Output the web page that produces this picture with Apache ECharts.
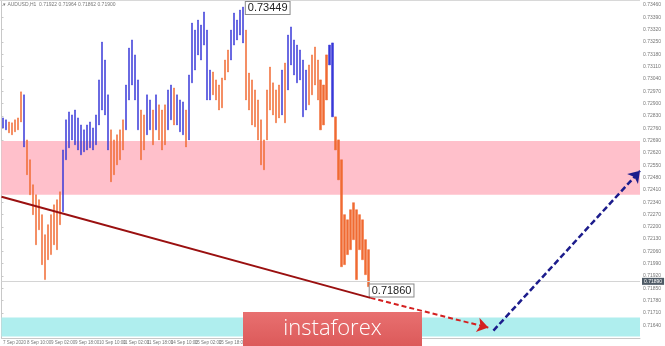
<!DOCTYPE html>
<html><head><meta charset="utf-8">
<script src="https://cdn.jsdelivr.net/npm/echarts@6/dist/echarts.min.js"></script>
<style>html,body{margin:0;padding:0;background:#fff}#c{width:665px;height:346px}</style>
</head><body><div id="c"></div>
<script>
const symbolTitle = 'AUDUSD,H1  0.71922 0.71964 0.71862 0.71900';
const xTickLabels = ['7 Sep 2020','8 Sep 10:00','9 Sep 02:00','9 Sep 18:00','10 Sep 10:00','11 Sep 02:00','11 Sep 18:00','14 Sep 10:00','15 Sep 02:00','15 Sep 18:00','16 Sep 10:00','17 Sep 02:00','17 Sep 18:00','18 Sep 10:00','21 Sep 02:00'];
const barCount = 213;
const highs = [0.72819,0.72808,0.72796,0.72791,0.72808,0.72819,0.72967,0.72950,0.72694,0.72581,
0.72439,0.72382,0.72354,0.72269,0.72155,0.72212,0.72269,0.72325,0.72354,0.72399,
0.72637,0.72808,0.72853,0.72836,0.72864,0.72819,0.72779,0.72751,0.72779,0.72796,
0.72762,0.72836,0.73035,0.73250,0.73148,0.72950,0.72751,0.72694,0.72723,0.72751,
0.72808,0.73006,0.73216,0.73262,0.73177,0.73035,0.72864,0.72836,0.72950,0.72921,
0.72864,0.72950,0.72893,0.72864,0.72893,0.72978,0.73006,0.72989,0.72950,0.72921,
0.72910,0.72864,0.73063,0.73358,0.73318,0.73375,0.73347,0.73421,0.73318,0.73091,
0.73080,0.73035,0.73006,0.73046,0.73148,0.73205,0.73318,0.73415,0.73375,0.73432,
0.73449,0.73318,0.73074,0.73035,0.72978,0.72921,0.72808,0.72694,0.72978,0.73108,
0.73018,0.72978,0.73006,0.73091,0.73131,0.73290,0.73336,0.73262,0.73233,0.73205,
0.73148,0.73091,0.73120,0.73177,0.73222,0.73148,0.73035,0.73006,0.73177,0.73233,
0.73245,0.72825,0.72694,0.72581,0.72269,0.72240,0.72297,0.72337,0.72297,0.72269,
0.72240,0.72127,0.72070];
const lows = [0.72762,0.72751,0.72734,0.72723,0.72740,0.72751,0.72796,0.72654,0.72496,0.72382,
0.72269,0.72098,0.72183,0.71985,0.71900,0.72013,0.72042,0.72098,0.72070,0.72212,
0.72286,0.72581,0.72649,0.72694,0.72666,0.72637,0.72609,0.72626,0.72637,0.72649,
0.72637,0.72666,0.72779,0.72864,0.72836,0.72637,0.72456,0.72496,0.72552,0.72581,
0.72637,0.72751,0.72921,0.73006,0.72921,0.72751,0.72581,0.72637,0.72723,0.72751,
0.72666,0.72751,0.72694,0.72637,0.72666,0.72751,0.72808,0.72779,0.72779,0.72740,
0.72723,0.72654,0.72694,0.73018,0.73091,0.73177,0.73148,0.73233,0.72921,0.72921,
0.72950,0.72921,0.72864,0.72876,0.73035,0.73080,0.73148,0.73233,0.73262,0.73290,
0.73245,0.72921,0.72864,0.72779,0.72768,0.72694,0.72552,0.72524,0.72694,0.72864,
0.72836,0.72791,0.72819,0.72836,0.72791,0.72978,0.73120,0.73063,0.73018,0.73035,
0.72825,0.72864,0.72893,0.72950,0.73006,0.72921,0.72751,0.72779,0.72921,0.73120,
0.72825,0.72637,0.72467,0.71973,0.71985,0.72042,0.72070,0.72127,0.71900,0.72070,
0.72013,0.71928,0.71860];
const bullish = [1,1,0,0,0,0,0,1,0,0, 0,0,0,0,0,0,0,0,0,0,
1,1,1,1,1,1,1,1,1,1, 1,1,1,1,1,1,0,0,0,0,
0,1,1,1,1,1,0,0,1,1, 0,1,0,0,0,1,1,0,1,1,
1,0,1,1,1,1,1,1,1,1, 0,0,0,0,0,0,1,1,1,1,
1,0,0,0,0,0,0,0,0,0, 0,0,0,1,0,1,1,1,1,1,
1,1,0,0,0,0,0,0,0,1, 1,0,0,0,0,0,0,0,0,0,
0,0,0];
const priceTicks = [0.73460,0.73390,0.73320,0.73250,0.73180,0.73110,0.73040,0.72970,0.72900,0.72830,
0.72760,0.72690,0.72620,0.72550,0.72480,0.72410,0.72340,0.72270,0.72200,0.72130,
0.72060,0.71990,0.71920,0.71850,0.71780,0.71710,0.71640];
const peakPoint = [80, 0.73449];
const lowPoint = [122, 0.71860];
const currentPrice = 0.71890;
const pinkZone = [0.72382, 0.72688];
const cyanZone = [0.71576, 0.71684];
const trendLine = [[0, 0.72371], [123.1, 0.71796]];
const trendForecast = [[123.1, 0.71796], [162.4, 0.71627]];
const upForecast = [[164.1, 0.71610], [213, 0.72518]];

const categories = Array.from({length: barCount}, (_, i) => i);
const candles = highs.map((h, i) => bullish[i] ? [lows[i], h, lows[i], h] : [h, lows[i], lows[i], h]);

const chart = echarts.init(document.getElementById('c'), null, {renderer: 'canvas'});
chart.setOption({
  animation: false,
  backgroundColor: '#fff',
  grid: {left: 0, right: 25, top: 0, bottom: 8},
  xAxis: [{
    type: 'category', data: categories, boundaryGap: true,
    axisLine: {show: true, lineStyle: {color: '#c8c8c8'}},
    axisTick: {show: false},
    axisLabel: {
      interval: 7, showMinLabel: true, hideOverlap: false, fontSize: 4.5, color: '#777', align: 'left', margin: 2,
      formatter: (v, idx) => xTickLabels[idx / 8] || ''
    },
    splitLine: {show: false}
  }, {
    type: 'value', min: 0, max: barCount, show: false
  }],
  yAxis: {
    type: 'value', position: 'right', min: 0.71568, max: 0.73489,
    axisLine: {show: true, lineStyle: {color: '#c8c8c8'}},
    axisTick: {show: true, length: 2, lineStyle: {color: '#c8c8c8'}, customValues: priceTicks},
    axisLabel: {fontSize: 5, color: '#777', margin: 3, customValues: priceTicks, formatter: v => v.toFixed(5)},
    splitLine: {show: false}
  },
  graphic: [
    {type: 'line', z: 100, shape: {x1: 0, y1: 0.5, x2: 640, y2: 0.5}, style: {stroke: '#d8d8d8', lineWidth: 1}},
    {type: 'text', z: 100, left: 3, top: 2, style: {text: '▾ ' + symbolTitle, fontSize: 5, fill: '#777'}},
    {type: 'rect', z: 100, zlevel: 1, shape: {x: 243, y: 312, width: 179, height: 34},
      style: {fill: new echarts.graphic.LinearGradient(0, 0, 0, 1, [{offset: 0, color: '#e87070'}, {offset: 1, color: '#dc5a5a'}])}},
    {type: 'text', z: 101, zlevel: 1, x: 332.5, y: 329, style: {text: 'instaforex', fill: '#fff', fontSize: 22, fontFamily: 'Open Sans', fontWeight: 300, align: 'center', verticalAlign: 'middle'}}
  ],
  series: [
    {
      type: 'line', xAxisIndex: 1, data: [], z: 1, silent: true,
      markArea: {silent: true, data: [
        [{yAxis: pinkZone[0], itemStyle: {color: '#ffc0cb'}}, {yAxis: pinkZone[1]}],
        [{yAxis: cyanZone[0], itemStyle: {color: '#afeeee'}}, {yAxis: cyanZone[1]}]
      ]},
      markLine: {
        silent: true, symbol: 'none', precision: 5,
        lineStyle: {color: '#d4d4d4', width: 1, type: 'solid'},
        label: {position: 'end', formatter: () => currentPrice.toFixed(5), fontSize: 5, color: '#fff', backgroundColor: '#4f5b66', padding: [1, 2], distance: 2},
        data: [{yAxis: currentPrice}]
      }
    },
    {
      type: 'candlestick', data: candles, z: 2, barWidth: 2,
      itemStyle: {color: '#3838d8', color0: '#f06a32', borderColor: '#3838d8', borderColor0: '#f06a32', borderWidth: 0.5},
      markPoint: {
        symbol: 'circle', symbolSize: 0,
        label: {position: 'right', distance: 0, fontSize: 11, fontFamily: 'Liberation Sans', color: '#222',
          backgroundColor: '#fff', borderColor: '#8a8a8a', borderWidth: 1, padding: [1, 2, 0, 2], formatter: p => p.value.toFixed(5)},
        data: [
          {coord: peakPoint, value: peakPoint[1], label: {offset: [3, 1]}},
          {coord: lowPoint, value: lowPoint[1], label: {offset: [1, 4]}}
        ]
      }
    },
    {
      type: 'line', xAxisIndex: 1, data: trendLine, z: 5, symbol: 'none', silent: true,
      lineStyle: {color: '#9a1010', width: 2},
      markLine: {
        silent: true, symbol: ['none', 'arrow'], symbolSize: 11, precision: 5, label: {show: false},
        data: [
          [{coord: trendForecast[0], lineStyle: {color: '#d42020', width: 2, type: [5, 3]}}, {coord: trendForecast[1]}],
          [{coord: upForecast[0], lineStyle: {color: '#1c1c8c', width: 2.5, type: [6, 3]}}, {coord: upForecast[1]}]
        ]
      }
    }
  ]
});
</script></body></html>
